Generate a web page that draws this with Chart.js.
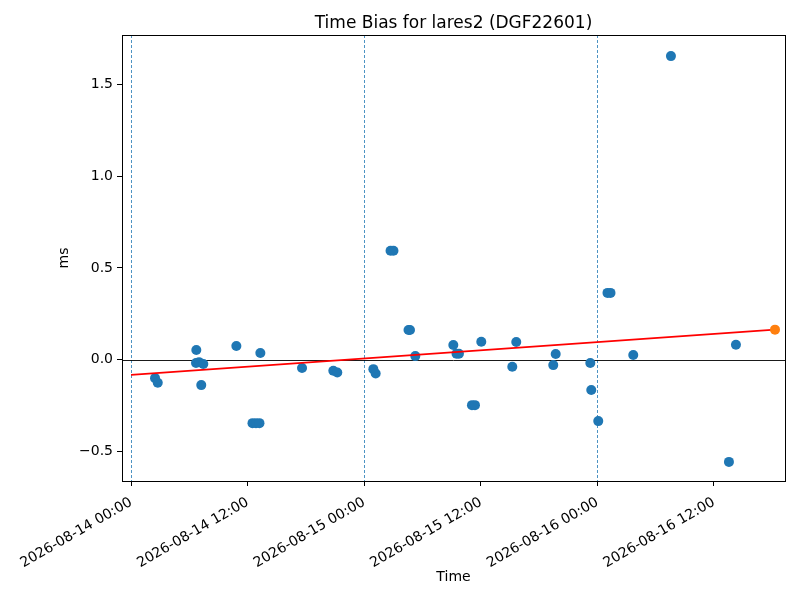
<!DOCTYPE html>
<html>
<head>
  <title>Time Bias for lares2 (DGF22601)</title>
  <script src="https://cdn.jsdelivr.net/npm/chart.js"></script>
  <style>
    html, body {
      margin: 0;
      padding: 0;
      background: #ffffff;
    }

    #wrap {
      width: 800px;
      height: 600px;
    }
  </style>
</head>
<body>
  <div id="wrap">
    <canvas id="graphique" width="800" height="600"></canvas>
  </div>

  <script>
    // Heures depuis 2026-08-14 00:00
    const biasHours = [
      2.47, 2.75, 6.72, 6.69, 7.00, 7.44, 7.23, 10.84, 12.50, 12.86,
      13.22, 13.31, 17.60, 20.82, 21.23, 24.94, 25.18, 26.71, 27.01, 28.56,
      28.71, 29.26, 33.17, 33.50, 33.75, 35.09, 35.40, 36.05, 39.24, 39.65,
      43.46, 43.71, 47.27, 47.37, 48.09, 49.04, 49.35, 51.69, 55.57, 61.54,
      62.26
    ];
    // Biais en ms
    const biasMs = [
      -0.100, -0.125, 0.053, -0.018, -0.013, -0.023, -0.138, 0.075, -0.345, -0.345,
      -0.345, 0.037, -0.045, -0.060, -0.069, -0.051, -0.075, 0.593, 0.593, 0.162,
      0.162, 0.020, 0.080, 0.033, 0.033, -0.247, -0.247, 0.098, -0.038, 0.097,
      -0.029, 0.031, -0.018, -0.165, -0.334, 0.364, 0.364, 0.026, 1.653, -0.556,
      0.082
    ];

    // Droite de tendance et dernier point
    const fitHours = [0, 66.28];
    const fitMs = [-0.082, 0.164];
    const lastHours = [66.28];
    const lastMs = [0.164];

    // Repères verticaux (minuit) et ligne zéro
    const midnightHours = [0, 24, 48];
    const zeroMs = 0;

    // Graduations
    const xTickHours = [0, 12, 24, 36, 48, 60];
    const xTickLabels = [
      "2026-08-14 00:00", "2026-08-14 12:00", "2026-08-15 00:00",
      "2026-08-15 12:00", "2026-08-16 00:00", "2026-08-16 12:00"
    ];
    const yTickValues = [-0.5, 0.0, 0.5, 1.0, 1.5];

    const chartTitle = "Time Bias for lares2 (DGF22601)";

    const toPoints = (xs, ys) => xs.map((x, i) => ({ x: x, y: ys[i] }));

    const fontFamily = "'DejaVu Sans', sans-serif";

    // Cadre, titre centré sur les axes, ligne zéro et repères verticaux
    const decorations = {
      id: "decorations",
      beforeDatasetsDraw(chart) {
        const ctx = chart.ctx;
        const area = chart.chartArea;
        const xs = chart.scales.x;
        const ys = chart.scales.y;
        ctx.save();
        ctx.strokeStyle = "#1f77b4";
        ctx.lineWidth = 0.8;
        ctx.setLineDash([3, 2]);
        midnightHours.forEach(h => {
          const px = Math.round(xs.getPixelForValue(h)) + 0.5;
          ctx.beginPath();
          ctx.moveTo(px, area.top);
          ctx.lineTo(px, area.bottom);
          ctx.stroke();
        });
        ctx.setLineDash([]);
        ctx.strokeStyle = "#000000";
        ctx.lineWidth = 0.9;
        const py = Math.round(ys.getPixelForValue(zeroMs)) + 0.5;
        ctx.beginPath();
        ctx.moveTo(area.left, py);
        ctx.lineTo(area.right, py);
        ctx.stroke();
        ctx.restore();
      },
      afterDatasetsDraw(chart) {
        const ctx = chart.ctx;
        const area = chart.chartArea;
        ctx.save();
        ctx.strokeStyle = "#000000";
        ctx.lineWidth = 1;
        ctx.strokeRect(Math.round(area.left) + 0.5, Math.round(area.top) + 0.5,
          Math.round(area.right - area.left), Math.round(area.bottom - area.top));
        ctx.fillStyle = "#000000";
        ctx.font = "17px " + fontFamily;
        ctx.textAlign = "center";
        ctx.textBaseline = "middle";
        ctx.fillText(chartTitle, (area.left + area.right) / 2, area.top - 11);
        ctx.restore();
      }
    };

    const graphique = document.getElementById("graphique").getContext("2d");
    new Chart(graphique, {
      type: "scatter",
      data: {
        datasets: [
          {
            label: "Dernier",
            data: toPoints(lastHours, lastMs),
            backgroundColor: "#ff7f0e",
            borderWidth: 0,
            pointRadius: 5,
            order: 0
          },
          {
            type: "line",
            label: "Tendance",
            data: toPoints(fitHours, fitMs),
            borderColor: "#ff0000",
            borderWidth: 1.8,
            pointRadius: 0,
            fill: false,
            order: 1
          },
          {
            label: "Biais",
            data: toPoints(biasHours, biasMs),
            backgroundColor: "#1f77b4",
            borderWidth: 0,
            pointRadius: 5,
            order: 2
          }
        ]
      },
      options: {
        responsive: false,
        animation: false,
        devicePixelRatio: 1,
        layout: {
          padding: { left: 0, right: 15, top: 35, bottom: 0 }
        },
        plugins: {
          legend: { display: false },
          tooltip: { enabled: false },
          title: { display: false }
        },
        scales: {
          x: {
            type: "linear",
            min: -0.93,
            max: 67.31,
            border: { display: true, color: "#000000", width: 1 },
            grid: {
              drawOnChartArea: false,
              drawTicks: true,
              tickLength: 5,
              color: "#000000"
            },
            afterBuildTicks: scale => {
              scale.ticks = xTickHours.map(v => ({ value: v }));
            },
            afterFit: scale => {
              scale.height = 119;
            },
            ticks: {
              autoSkip: false,
              minRotation: 30,
              maxRotation: 30,
              padding: 8,
              color: "#000000",
              font: { family: fontFamily, size: 14 },
              callback: (value) => {
                const i = xTickHours.indexOf(value);
                return i >= 0 ? xTickLabels[i] : "";
              }
            },
            title: {
              display: true,
              text: "Time",
              color: "#000000",
              font: { family: fontFamily, size: 14 },
              padding: { top: 0, bottom: 14 }
            }
          },
          y: {
            type: "linear",
            min: -0.66,
            max: 1.768,
            border: { display: true, color: "#000000", width: 1 },
            grid: {
              drawOnChartArea: false,
              drawTicks: true,
              tickLength: 5,
              color: "#000000"
            },
            afterBuildTicks: scale => {
              scale.ticks = yTickValues.map(v => ({ value: v }));
            },
            afterFit: scale => {
              scale.width = 122;
            },
            ticks: {
              padding: 4,
              color: "#000000",
              font: { family: fontFamily, size: 14 },
              callback: (value) => value.toFixed(1).replace("-", "\u2212")
            },
            title: {
              display: true,
              text: "ms",
              color: "#000000",
              font: { family: fontFamily, size: 14 },
              padding: { top: 56, bottom: 0 }
            }
          }
        }
      },
      plugins: [decorations]
    });
  </script>
</body>
</html>
